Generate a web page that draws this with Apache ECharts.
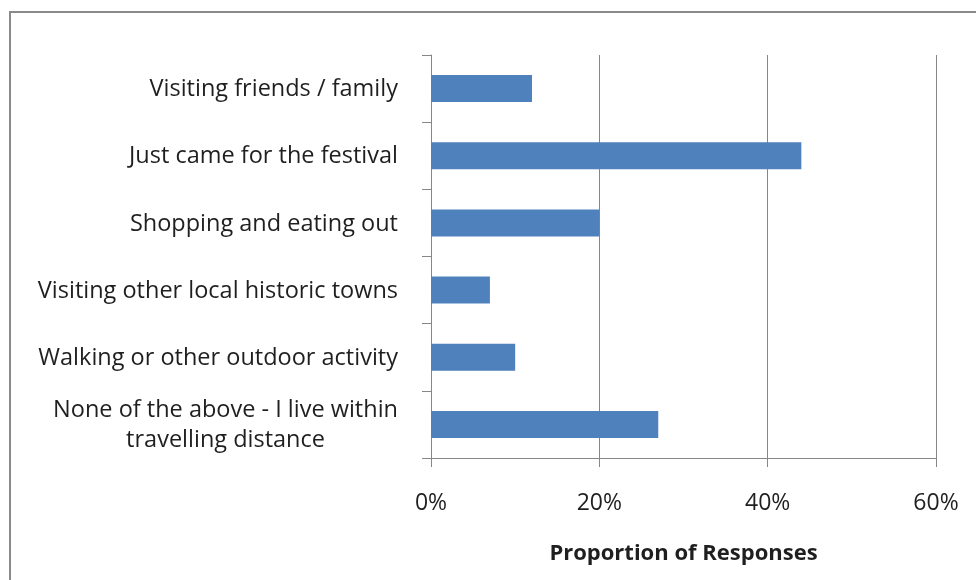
<!DOCTYPE html>
<html>
<head>
<meta charset="utf-8">
<script src="https://cdn.jsdelivr.net/npm/echarts@6/dist/echarts.min.js"></script>
<style>
  html, body { margin: 0; padding: 0; background: #fff; }
  #chart { width: 976px; height: 580px; }
</style>
</head>
<body>
<div id="chart"></div>
<script>
// Reasons for visiting, top to bottom
var categories = [
  'Visiting friends / family',
  'Just came for the festival',
  'Shopping and eating out',
  'Visiting other local historic towns',
  'Walking or other outdoor activity',
  'None of the above - I live within\ntravelling distance'
];
// Share of responses, in percent
var values = [12, 44, 20, 7, 10, 27];
// Value axis ticks
var tickValues = [0, 20, 40, 60];

var FONT = '"Open Sans", sans-serif';
var TEXT = '#1f1f1f';
var LINE = '#878787';
var LABEL_SIZE = 23.5;

var chart = echarts.init(document.getElementById('chart'), null, { renderer: 'canvas' });

chart.setOption({
  backgroundColor: '#ffffff',
  animation: false,
  graphic: [{
    type: 'rect',
    shape: { x: 10, y: 12, width: 1000, height: 620 },
    style: { fill: 'none', stroke: '#8a8a8a', lineWidth: 2 },
    silent: true
  }],
  grid: { left: 431, right: 40, top: 55, bottom: 122, containLabel: false },
  xAxis: {
    type: 'value',
    min: tickValues[0],
    max: tickValues[tickValues.length - 1],
    interval: 20,
    name: 'Proportion of Responses',
    nameLocation: 'middle',
    nameGap: 85,
    nameTextStyle: { fontFamily: FONT, fontSize: 22, fontWeight: 'bold', color: TEXT },
    axisLine: { show: true, lineStyle: { color: LINE, width: 1 } },
    axisTick: { show: true, length: 9, lineStyle: { color: LINE } },
    axisLabel: {
      margin: 34,
      fontFamily: FONT, fontSize: 23, color: TEXT,
      formatter: function (v) { return v + '%'; }
    },
    splitLine: { show: true, lineStyle: { color: LINE, width: 1 } }
  },
  yAxis: {
    type: 'category',
    inverse: true,
    data: categories,
    axisLine: { show: true, lineStyle: { color: LINE, width: 1 } },
    axisTick: { show: true, length: 9, alignWithLabel: false, lineStyle: { color: LINE } },
    axisLabel: {
      margin: 33,
      align: 'right',
      padding: [2, 0, 0, 0],
      fontFamily: FONT, fontSize: LABEL_SIZE, color: TEXT,
      lineHeight: 30,
      formatter: function (v) {
        if (v.indexOf('\n') < 0) return v;
        return v.split('\n').map(function (s) { return '{c|' + s + '}'; }).join('\n');
      },
      rich: {
        c: { align: 'center', fontFamily: FONT, fontSize: LABEL_SIZE, color: TEXT, lineHeight: 30 }
      }
    },
    splitLine: { show: false }
  },
  series: [{
    type: 'bar',
    data: values,
    barWidth: 27,
    itemStyle: { color: '#4f81bd' }
  }]
});
</script>
</body>
</html>
